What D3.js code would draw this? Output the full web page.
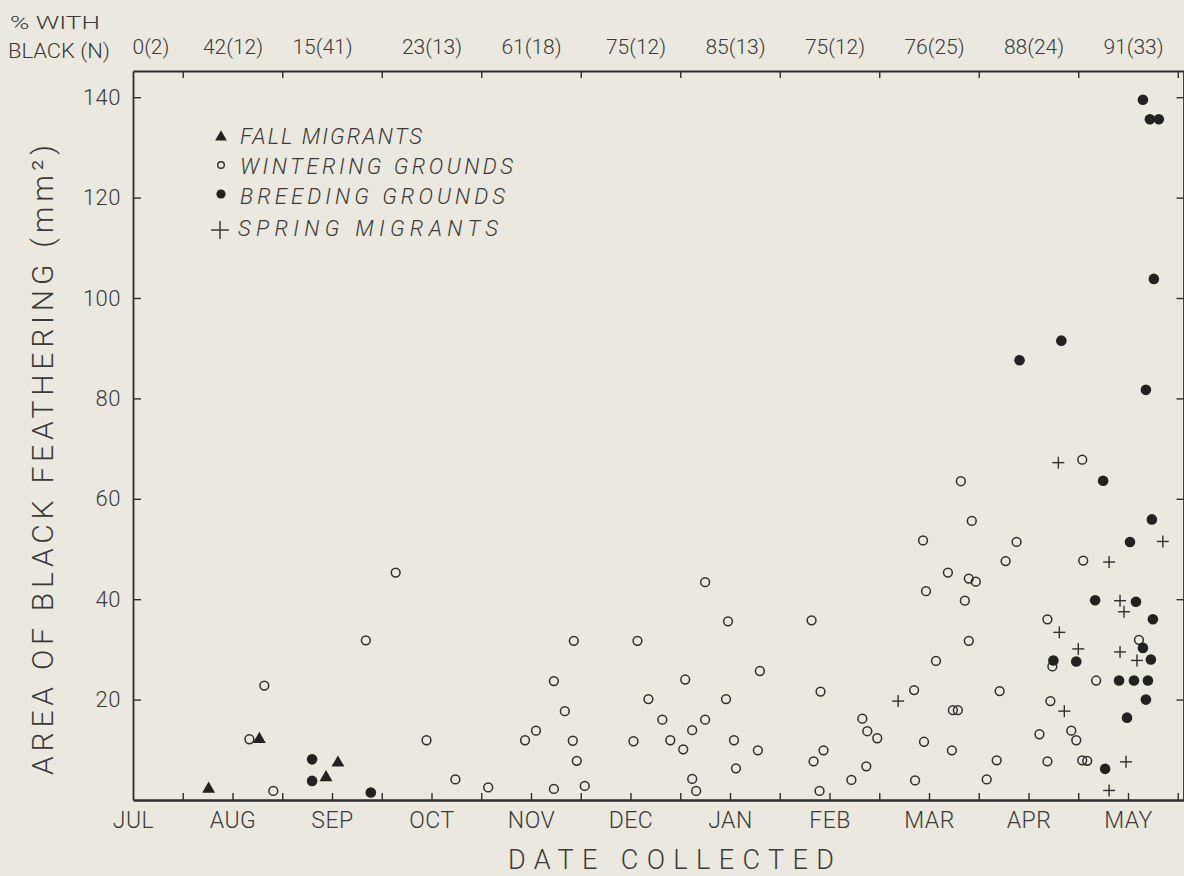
<!DOCTYPE html>
<html>
<head>
<meta charset="utf-8">
<script src="https://cdn.jsdelivr.net/npm/d3@7"></script>
<style>
  html, body { margin: 0; padding: 0; background: #ebe8df; }
  svg { display: block; }
  text { font-family: Roboto, "Open Sans", "DejaVu Sans", sans-serif; font-weight: 300; fill: #3a3a3a; }
</style>
</head>
<body>
<svg id="chart" width="1184" height="876"></svg>
<script>
// ---------- data ----------
const monthLabels = ["JUL","AUG","SEP","OCT","NOV","DEC","JAN","FEB","MAR","APR","MAY"];
const pctLabels = ["0(2)","42(12)","15(41)","23(13)","61(18)","75(12)","85(13)","75(12)","76(25)","88(24)","91(33)"];
const pctMonths = [0, 1, 1.9, 3, 4, 5.05, 6.05, 7.05, 8.05, 9.05, 10.05];
const yTickValues = [20, 40, 60, 80, 100, 120, 140];

// x values are in months after the start of July (JUL = 0, AUG = 1, ... MAY = 10)
const fallMonth = [0.76, 1.27, 1.94, 2.06];
const fallArea  = [2.2, 12.1, 4.5, 7.4];

const winterMonth = [1.17,1.32,1.41,2.34,2.64,2.95,3.24,3.57,3.94,4.05,4.23,4.23,4.34,4.42,4.43,4.46,4.54,
  5.03,5.07,5.18,5.32,5.40,5.53,5.55,5.62,5.62,5.66,5.75,5.75,5.96,5.98,6.04,6.06,6.28,6.30,
  6.82,6.84,6.90,6.91,6.94,7.22,7.33,7.37,7.38,7.48,7.85,7.86,7.94,7.95,7.97,8.07,8.19,8.23,8.24,8.29,
  8.32,8.36,8.40,8.40,8.43,8.47,8.58,8.68,8.71,8.77,8.88,9.11,9.19,9.19,9.22,9.24,9.43,9.48,9.54,9.54,
  9.55,9.59,9.68,10.11];
const winterArea = [12.1,22.8,1.8,31.8,45.3,11.9,4.1,2.5,11.9,13.8,23.7,2.2,17.7,11.8,31.7,7.8,2.8,
  11.7,31.7,20.1,16.0,11.9,10.1,24.0,13.9,4.2,1.8,43.4,16.0,20.1,35.6,11.9,6.3,9.9,25.7,
  35.8,7.7,1.8,21.6,9.9,4.0,16.2,6.7,13.7,12.3,21.9,3.9,51.7,11.6,41.6,27.7,45.3,9.9,17.9,17.9,
  63.5,39.7,44.1,31.7,55.6,43.5,4.1,7.9,21.7,47.6,51.4,13.1,7.7,36.0,19.7,26.6,13.8,11.9,67.8,7.9,
  47.7,7.8,23.8,31.9];

const breedMonth = [1.80,1.80,2.39,8.91,9.33,9.75,10.18,10.24,10.02,9.67,10.08,10.25,10.15,10.23,9.25,9.48,
  9.91,10.06,10.20,10.18,9.99,9.77,10.15,10.22,10.31,10.26];
const breedArea = [8.1,3.8,1.5,87.6,91.5,63.6,81.7,55.9,51.4,39.8,39.5,36.0,30.3,28.0,27.8,27.6,
  23.8,23.8,23.8,20.0,16.4,6.2,139.5,135.6,135.6,103.8];

const springMonth = [7.69,9.30,10.35,9.81,9.92,9.96,9.31,9.50,9.92,10.09,9.36,9.98,9.81];
const springArea  = [19.7,67.2,51.5,47.4,39.7,37.5,33.4,30.1,29.5,27.8,17.7,7.6,1.9];

const legendLabels = ["FALL MIGRANTS","WINTERING GROUNDS","BREEDING GROUNDS","SPRING MIGRANTS"];

// ---------- layout ----------
const svg = d3.select("#chart");
const W = 1184, H = 876;
const mLeft = 133, mRight = 1184, mTop = 71, mBottom = 800;
const ink = "#2f2f2f";

svg.append("rect").attr("width", W).attr("height", H).attr("fill", "#ebe8df");

const x = d3.scaleLinear().domain([0, (mRight - mLeft) / 99.5]).range([mLeft, mRight]);
const y = d3.scaleLinear().domain([0, (mBottom - mTop) / 5.02]).range([mBottom, mTop]);

const halfMonths = d3.range(0.5, 10.6, 0.5);
const topHalf = d3.range(0.5, 10.6, 1);

function styleAxis(g, sw) {
  g.selectAll("path.domain").attr("stroke", ink).attr("stroke-width", sw);
  g.selectAll(".tick line").attr("stroke", ink).attr("stroke-width", 1.4);
  g.selectAll(".tick text").attr("fill", "#3a3a3a");
}

// bottom axis ticks (pointing up)
const gb = svg.append("g").attr("transform", `translate(0,${mBottom})`)
  .call(d3.axisBottom(x).tickValues(halfMonths).tickSizeInner(-7).tickSizeOuter(0).tickFormat(""));
styleAxis(gb, 2.4);
// bottom month labels
const gbl = svg.append("g").attr("transform", `translate(0,${mBottom})`)
  .call(d3.axisBottom(x).tickValues(d3.range(0, 11)).tickSize(0).tickPadding(11)
    .tickFormat(i => monthLabels[i]));
gbl.select("path.domain").remove();
gbl.selectAll(".tick text").attr("font-size", 23).attr("font-family", "Roboto, sans-serif")
  .attr("font-weight", 300).attr("letter-spacing", "0.5px").attr("dy", "0.76em");

// top axis (ticks pointing down)
const gt = svg.append("g").attr("transform", `translate(0,${mTop})`)
  .call(d3.axisTop(x).tickValues(topHalf).tickSizeInner(-7).tickSizeOuter(0).tickFormat(""));
styleAxis(gt, 2);
// top percentage labels
const gtl = svg.append("g").attr("transform", `translate(0,${mTop})`)
  .call(d3.axisTop(x).tickValues(pctMonths).tickSize(0).tickPadding(17)
    .tickFormat((d, i) => pctLabels[i]));
gtl.select("path.domain").remove();
gtl.selectAll(".tick text").attr("font-size", 21).attr("font-family", "Roboto, sans-serif")
  .attr("font-weight", 300);
gtl.selectAll(".tick text").filter((d, i) => i === 0).attr("text-anchor", "start").attr("x", -1);

// left axis
const gl = svg.append("g").attr("transform", `translate(${mLeft},0)`)
  .call(d3.axisLeft(y).tickValues(yTickValues).tickSizeInner(-8).tickSizeOuter(0).tickPadding(12));
styleAxis(gl, 1.8);
gl.selectAll(".tick text").attr("font-size", 22).attr("font-family", "Roboto, sans-serif")
  .attr("font-weight", 300).attr("letter-spacing", "0.5px");

// right axis
const gr = svg.append("g").attr("transform", `translate(${mRight - 0.5},0)`)
  .call(d3.axisRight(y).tickValues(yTickValues).tickSizeInner(-7).tickSizeOuter(0).tickFormat(""));
styleAxis(gr, 1.8);

// header text
svg.append("text").attr("x", 10).attr("y", 29).attr("font-size", 19)
  .attr("textLength", 90).attr("lengthAdjust", "spacingAndGlyphs").text("% WITH");
svg.append("text").attr("x", 8).attr("y", 58).attr("font-size", 20)
  .attr("textLength", 102).attr("lengthAdjust", "spacingAndGlyphs").text("BLACK (N)");

// axis titles
svg.append("text").attr("x", 671).attr("y", 869).attr("text-anchor", "middle")
  .attr("font-size", 27).attr("textLength", 326).attr("lengthAdjust", "spacing")
  .text("DATE COLLECTED");
svg.append("text").attr("transform", "translate(53,460) rotate(-90)")
  .attr("text-anchor", "middle").attr("font-size", 30)
  .attr("textLength", 630).attr("lengthAdjust", "spacing")
  .text("AREA OF BLACK FEATHERING (mm²)");

// ---------- marks ----------
const plot = svg.append("g");
const tri = d3.symbol().type(d3.symbolTriangle).size(72);

plot.selectAll("circle.win").data(d3.range(winterMonth.length)).join("circle")
  .attr("class", "win")
  .attr("cx", i => x(winterMonth[i])).attr("cy", i => y(winterArea[i])).attr("r", 4.4)
  .attr("fill", "none").attr("stroke", ink).attr("stroke-width", 1.5);

plot.selectAll("circle.breed").data(d3.range(breedMonth.length)).join("circle")
  .attr("class", "breed")
  .attr("cx", i => x(breedMonth[i])).attr("cy", i => y(breedArea[i])).attr("r", 5.3)
  .attr("fill", "#222");

plot.selectAll("path.fall").data(d3.range(fallMonth.length)).join("path")
  .attr("class", "fall").attr("d", tri)
  .attr("transform", i => `translate(${x(fallMonth[i])},${y(fallArea[i])})`)
  .attr("fill", "#222");

const plusG = plot.selectAll("g.spring").data(d3.range(springMonth.length)).join("g")
  .attr("class", "spring")
  .attr("transform", i => `translate(${x(springMonth[i])},${y(springArea[i])})`);
plusG.append("line").attr("x1", -6).attr("x2", 6).attr("stroke", ink).attr("stroke-width", 1.4);
plusG.append("line").attr("y1", -6).attr("y2", 6).attr("stroke", ink).attr("stroke-width", 1.4);

// ---------- legend ----------
const legY = [136, 166, 196, 228];
const legLen = [182, 273, 265, 260];
const leg = svg.append("g");
leg.append("path").attr("d", d3.symbol().type(d3.symbolTriangle).size(60))
  .attr("transform", `translate(221,${legY[0] + 1})`).attr("fill", "#222");
leg.append("circle").attr("cx", 221).attr("cy", legY[1] - 1).attr("r", 3.3)
  .attr("fill", "none").attr("stroke", ink).attr("stroke-width", 1.4);
leg.append("circle").attr("cx", 221).attr("cy", legY[2] - 2).attr("r", 4.6).attr("fill", "#222");
leg.append("line").attr("x1", 211).attr("x2", 229).attr("y1", legY[3] + 2).attr("y2", legY[3] + 2)
  .attr("stroke", ink).attr("stroke-width", 1.4);
leg.append("line").attr("x1", 220).attr("x2", 220).attr("y1", legY[3] - 7).attr("y2", legY[3] + 11)
  .attr("stroke", ink).attr("stroke-width", 1.4);
leg.selectAll("text").data(legendLabels).join("text")
  .attr("x", (d, i) => i === 3 ? 238 : 240)
  .attr("y", (d, i) => legY[i] + 8)
  .attr("font-size", 22).attr("font-style", "italic")
  .attr("textLength", (d, i) => legLen[i]).attr("lengthAdjust", "spacing")
  .text(d => d);
</script>
</body>
</html>
